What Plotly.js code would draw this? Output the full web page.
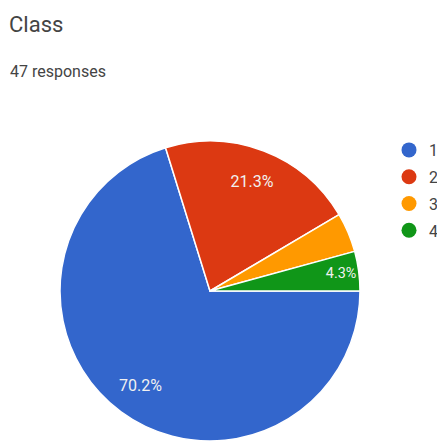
<!DOCTYPE html>
<html>
<head>
<meta charset="utf-8">
<script src="https://cdn.plot.ly/plotly-3.0.1.min.js"></script>
<style>html,body{margin:0;padding:0;background:#fff;}#chart{width:437px;height:441px;}</style>
</head>
<body>
<div id="chart"></div>
<script>
const chartTitle = "Class";
const subtitle = "47 responses";
const categories = ["1", "2", "3", "4"];
const counts = [33, 10, 2, 2];
const colors = ["#3366cc", "#dc3912", "#ff9900", "#109618"];
const showLabel = [true, true, false, true];

const pieDomain = { x: [60/437, 360/437], y: [0, 300/441] };

const pie = {
  type: "pie",
  labels: categories,
  values: counts,
  sort: false,
  direction: "clockwise",
  rotation: 90,
  marker: { colors: colors, line: { color: "#ffffff", width: 1.5 } },
  textinfo: "none",
  domain: pieDomain,
  showlegend: false,
  hoverinfo: "label+value+percent"
};

// transparent ring carrying the percentage labels (places them out toward the rim)
const labelRing = {
  type: "pie",
  labels: categories,
  values: counts,
  sort: false,
  direction: "clockwise",
  rotation: 90,
  hole: 0.56,
  marker: { colors: categories.map(() => "rgba(0,0,0,0)"), line: { width: 0 } },
  texttemplate: showLabel.map(s => s ? "%{percent:.1%}" : ""),
  textposition: "inside",
  insidetextorientation: "horizontal",
  textfont: { family: "Roboto", size: 16, color: "#f1f1f1" },
  domain: pieDomain,
  showlegend: false,
  hoverinfo: "skip"
};

const legendTraces = categories.map((c, i) => ({
  type: "scatter",
  mode: "markers",
  x: [null], y: [null],
  name: c,
  legendgroup: "g" + i,
  marker: { color: colors[i], size: 15, symbol: "circle" },
  showlegend: true,
  hoverinfo: "skip"
}));

const layout = {
  width: 437, height: 441,
  margin: { l: 0, r: 0, t: 0, b: 0, autoexpand: false },
  paper_bgcolor: "#ffffff",
  plot_bgcolor: "#ffffff",
  font: { family: "Roboto", color: "#3c4043" },
  title: {
    text: chartTitle,
    font: { family: "Roboto", size: 22, color: "#444444" },
    xref: "container", yref: "container",
    x: 9/437, xanchor: "left",
    y: 1 - 24/441, yanchor: "middle"
  },
  annotations: [{
    text: subtitle,
    xref: "paper", yref: "paper",
    x: 8/437, xanchor: "left",
    y: 1 - 72/441, yanchor: "middle",
    showarrow: false,
    font: { family: "Roboto", size: 16, color: "#444444" }
  }],
  xaxis: { visible: false, range: [0, 1] },
  yaxis: { visible: false, range: [0, 1] },
  legend: {
    x: 389/437, xanchor: "left",
    y: 1 - 133/441, yanchor: "top",
    font: { family: "Roboto", size: 16, color: "#444444" },
    tracegroupgap: 3,
    bgcolor: "rgba(0,0,0,0)"
  },
  showlegend: true
};

Plotly.newPlot("chart", [pie, labelRing].concat(legendTraces), layout, { displayModeBar: false, staticPlot: true });
</script>
</body>
</html>
